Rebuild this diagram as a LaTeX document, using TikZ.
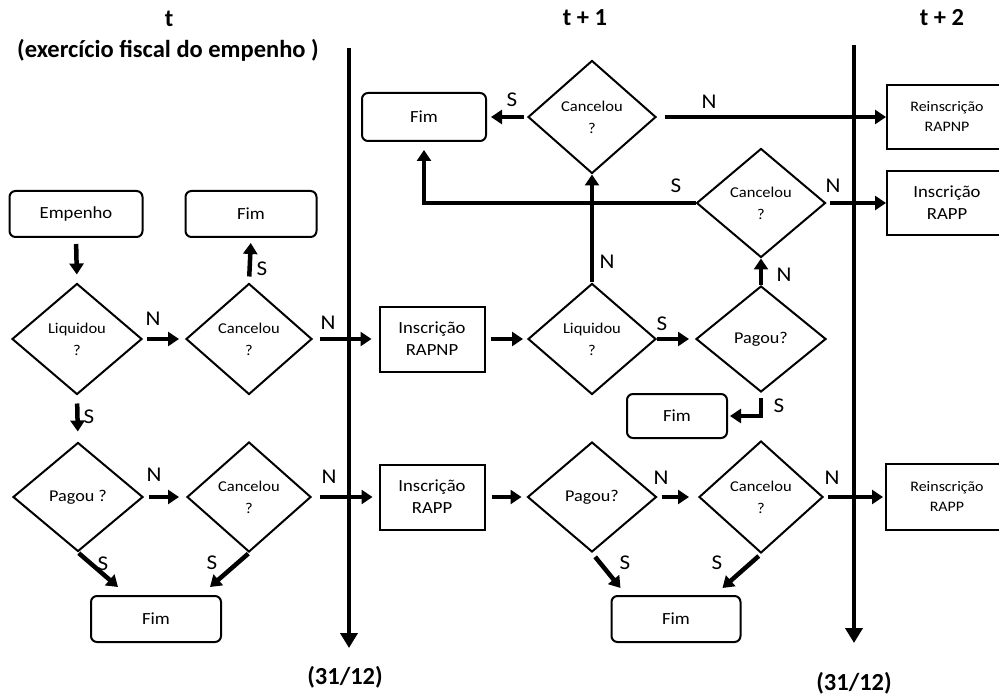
\documentclass[tikz,border=0pt]{standalone}
\usepackage{fontspec}
\setmainfont{Carlito}
\newfontfamily\stretchfont[FakeStretch=1.1]{Carlito}
\usetikzlibrary{shapes.geometric,arrows.meta}

\newcommand{\headtext}{\fontsize{24.5}{28}\selectfont\bfseries}
\newcommand{\boxtext}{\stretchfont\fontsize{17}{22}\selectfont}
\newcommand{\smallboxtext}{\stretchfont\fontsize{14.5}{20}\selectfont}
\newcommand{\dectext}{\stretchfont\fontsize{15}{22}\selectfont}
\newcommand{\pagtext}{\stretchfont\fontsize{16.5}{22}\selectfont}
\newcommand{\lbltext}{\stretchfont\fontsize{21}{22}\selectfont}

\begin{document}
\begin{tikzpicture}[x=1pt,y=-1pt,
  head/.style={inner sep=0pt, font=\headtext},
  endbox/.style={draw, line width=2pt, rounded corners=6pt, inner sep=0pt,
    minimum width=#1, minimum height=46pt, font=\boxtext},
  endbox/.default=130pt,
  rectbox/.style={draw, line width=2pt, inner sep=0pt, align=center,
    minimum width=105pt, minimum height=65pt, font=\boxtext},
  decision/.style={draw, diamond, line width=2pt, inner sep=0pt, align=center,
    minimum width=128pt, minimum height=111pt, font=\dectext},
  lbl/.style={inner sep=0pt, font=\lbltext},
  flow/.style={line width=4.5pt, -{Triangle[length=11pt,width=14pt]}},
  timeline/.style={line width=4pt, -{Triangle[length=15pt,width=17pt]}}]

\useasboundingbox (0,0) rectangle (999,695);

% column headings and year-end dates
\node[head] (ht0)   at (169,19) {t};
\node[head] (hdesc) at (168,50) {(exercício fiscal do empenho )};
\node[head] (ht1)   at (585,18) {t + 1};
\node[head] (ht2)   at (942,18) {t + 2};
\node[head] (date1) at (345,677) {(31/12)};
\node[head] (date2) at (854,683) {(31/12)};

% year boundaries
\coordinate (tl1a) at (349,48);  \coordinate (tl1b) at (349,648);
\coordinate (tl2a) at (854,45);  \coordinate (tl2b) at (854,643);
\draw[timeline] (tl1a) -- (tl1b);
\draw[timeline] (tl2a) -- (tl2b);

% year t
\node[endbox=133pt] (emp)  at (76,214)  {Empenho};
\node[decision, minimum width=130pt] (liq1) at (77,339) {Liquidou\\?};
\node[decision, minimum width=130pt, minimum height=109pt, font=\pagtext] (pag1) at (78,497) {Pagou ?};
\node[decision, minimum width=126pt] (can1) at (249,339) {Cancelou\\?};
\node[endbox=131pt] (fim1) at (251,214) {Fim};
\node[decision, minimum width=124pt, minimum height=110pt] (can2) at (249,497) {Cancelou\\?};
\node[endbox] (fim2) at (156,619) {Fim};

% year t+1
\node[rectbox] (rapnp) at (432,339) {Inscrição\\RAPNP};
\node[rectbox] (rapp)  at (432,497) {Inscrição\\RAPP};
\node[decision] (liq2) at (592,339) {Liquidou\\?};
\node[decision, minimum width=130pt, minimum height=106pt, font=\pagtext] (pag2) at (761,339) {Pagou?};
\node[endbox=100pt, minimum height=44pt] (fim3) at (677,416) {Fim};
\node[decision, minimum height=113pt] (can3) at (592,117) {Cancelou\\?};
\node[endbox=124pt, minimum height=48pt] (fim4) at (424,117) {Fim};
\node[decision, minimum width=129pt, minimum height=109pt] (can4) at (761,203) {Cancelou\\?};
\node[decision, minimum width=129pt, minimum height=110pt, font=\pagtext] (pag3) at (592,497) {Pagou?};
\node[decision, minimum width=124pt, minimum height=112pt] (can5) at (761,497) {Cancelou\\?};
\node[endbox=129pt] (fim5) at (676,619) {Fim};

% year t+2
\node[rectbox, minimum width=120pt, minimum height=64pt, font=\smallboxtext] (rerapnp) at (947,117) {Reinscrição\\RAPNP};
\node[rectbox, minimum width=120pt, minimum height=64pt] (inrapp) at (947,203) {Inscrição\\RAPP};
\node[rectbox, minimum width=122pt, minimum height=66pt, font=\smallboxtext] (rerapp) at (947,497) {Reinscrição\\RAPP};

% connectors, year t
\draw[flow, shorten <=6pt, shorten >=8pt] (emp.south) -- (liq1.north);
\draw[flow, shorten <=4pt, shorten >=6pt] (liq1.east) -- (can1.west);
\draw[flow, shorten <=8pt, shorten >=10pt] (liq1.south) -- (pag1.north);
\draw[flow, shorten <=6pt, shorten >=5pt] (can1.north) -- (fim1.south);
\draw[flow, shorten <=7pt, shorten >=7pt] (can1.east) -- (rapnp.west);
\draw[flow, shorten <=5pt, shorten >=7pt] (pag1.east) -- (can2.west);
\draw[flow, shorten <=8pt, shorten >=6pt] (can2.east) -- (rapp.west);
\draw[flow, shorten <=1pt] (pag1.south) -- ([xshift=28pt,yshift=8pt]fim2.north west);
\draw[flow, shorten <=1pt] (can2.south) -- ([xshift=-12pt,yshift=8pt]fim2.north east);

% connectors, year t+1
\draw[flow, shorten <=5pt, shorten >=4pt] (rapnp.east) -- (liq2.west);
\draw[flow, shorten >=6pt] (liq2.east) -- (pag2.west);
\draw[flow] (liq2.north) -- (can3.south);
\draw[flow, shorten <=3pt, shorten >=4pt] (can3.west) -- (fim4.east);
\draw[flow, shorten <=8pt] (can3.east) -- (rerapnp.west);
\draw[flow] (pag2.north) -- (can4.south);
\draw[flow, shorten >=8pt] (can4.west) -| (fim4.south);
\draw[flow, shorten <=3pt] (can4.east) -- (inrapp.west);
\draw[flow, shorten <=5pt, shorten >=2pt] (pag2.south) |- (fim3.east);
\draw[flow, shorten <=6pt, shorten >=5pt] (rapp.east) -- (pag3.west);
\draw[flow, shorten <=4pt, shorten >=9pt] (pag3.east) -- (can5.west);
\draw[flow, shorten <=4pt, shorten >=2pt] (can5.east) -- (rerapp.west);
\draw[flow, shorten <=5pt] (pag3.south) -- ([xshift=10pt,yshift=7pt]fim5.north west);
\draw[flow, shorten <=3pt] (can5.south) -- ([xshift=-19pt,yshift=7pt]fim5.north east);

% branch labels
\node[lbl] (n1)  at (153,319) {N};
\node[lbl] (n2)  at (328,323) {N};
\node[lbl] (n3)  at (154,475) {N};
\node[lbl] (n4)  at (329,477) {N};
\node[lbl] (n5)  at (607,262) {N};
\node[lbl] (n6)  at (784,275) {N};
\node[lbl] (n7)  at (709,102) {N};
\node[lbl] (n8)  at (833,186) {N};
\node[lbl] (n9)  at (661,478) {N};
\node[lbl] (n10) at (832,478) {N};
\node[lbl] (s1)  at (262,269) {S};
\node[lbl] (s2)  at (89,417)  {S};
\node[lbl] (s3)  at (103,564) {S};
\node[lbl] (s4)  at (212,563) {S};
\node[lbl] (s5)  at (662,324) {S};
\node[lbl] (s6)  at (779,406) {S};
\node[lbl] (s7)  at (512,100) {S};
\node[lbl] (s8)  at (676,186) {S};
\node[lbl] (s9)  at (625,563) {S};
\node[lbl] (s10) at (717,563) {S};
\end{tikzpicture}
\end{document}
